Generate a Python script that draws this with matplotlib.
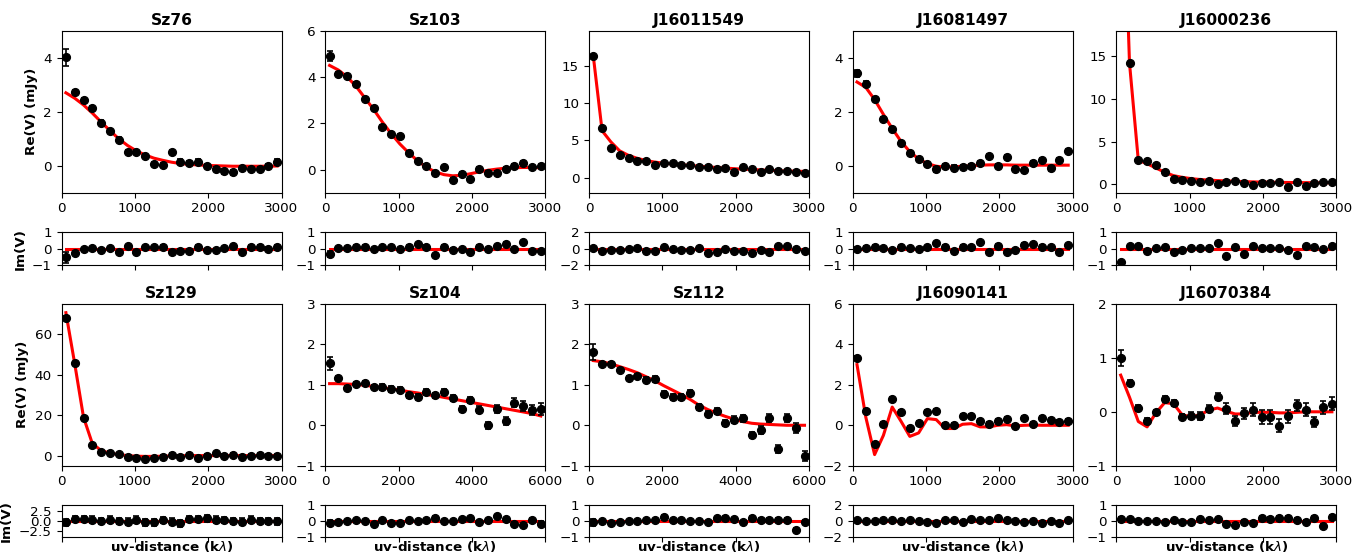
import matplotlib
matplotlib.use("Agg")
import matplotlib.pyplot as plt

# ---------------- data ----------------
uv_short = [60, 180, 300, 420, 540, 660, 780, 900, 1020, 1140, 1260, 1380, 1500,
            1620, 1740, 1860, 1980, 2100, 2220, 2340, 2460, 2580, 2700, 2820, 2940]
uv_long = [120, 360, 600, 840, 1080, 1320, 1560, 1800, 2040, 2280, 2520, 2760, 3000,
           3240, 3480, 3720, 3960, 4200, 4440, 4680, 4920, 5160, 5400, 5640, 5880]

names = ["Sz76", "Sz103", "J16011549", "J16081497", "J16000236",
         "Sz129", "Sz104", "Sz112", "J16090141", "J16070384"]

sz76_re = [4.02, 2.72, 2.42, 2.12, 1.60, 1.28, 0.97, 0.52, 0.52, 0.37, 0.06, 0.02, 0.52,
           0.15, 0.11, 0.15, 0.00, -0.11, -0.21, -0.25, -0.09, -0.11, -0.11, 0.00, 0.15]
sz76_err = [0.32] + [0.08] * 24
sz76_model = [2.70, 2.50, 2.25, 1.95, 1.62, 1.30, 1.00, 0.75, 0.55, 0.40, 0.28, 0.20, 0.13,
              0.08, 0.05, 0.03, 0.01, 0.00, -0.01, -0.02, -0.02, -0.02, -0.02, -0.02, -0.01]
sz76_im = [-0.53, -0.25, -0.04, 0.02, -0.08, 0.02, -0.22, 0.16, -0.22, 0.08, 0.08, 0.12, -0.22,
           -0.12, -0.14, 0.12, -0.10, -0.08, 0.04, 0.16, -0.22, 0.12, 0.12, 0.00, 0.12]

sz103_re = [4.91, 4.13, 4.06, 3.70, 3.04, 2.68, 1.84, 1.53, 1.44, 0.72, 0.35, 0.17, -0.16,
            0.09, -0.45, -0.19, -0.42, 0.01, -0.14, -0.13, 0.01, 0.17, 0.27, 0.09, 0.17]
sz103_err = [0.2] + [0.08] * 24
sz103_model = [4.50, 4.30, 4.00, 3.60, 3.10, 2.60, 2.05, 1.55, 1.10, 0.72, 0.38, 0.10, -0.10,
               -0.22, -0.27, -0.25, -0.18, -0.10, -0.03, 0.02, 0.06, 0.08, 0.09, 0.09, 0.08]
sz103_im = [-0.33, 0.02, 0.02, 0.12, 0.12, -0.02, 0.08, 0.08, -0.02, 0.12, 0.27, 0.12, -0.39,
            0.12, -0.06, -0.02, -0.22, 0.12, -0.04, 0.16, 0.31, -0.02, 0.39, -0.14, -0.14]

j16011549_re = [16.3, 6.62, 3.96, 3.02, 2.66, 2.30, 2.30, 1.71, 1.94, 1.94, 1.71, 1.76, 1.44,
                1.44, 1.13, 1.35, 0.72, 1.44, 1.13, 0.72, 1.22, 0.95, 0.90, 0.81, 0.59]
j16011549_err = [0.1] * 25
j16011549_model = [16.3, 6.3, 4.8, 3.6, 3.0, 2.6, 2.3, 2.1, 1.95, 1.85, 1.75, 1.65, 1.55,
                   1.45, 1.38, 1.30, 1.22, 1.15, 1.10, 1.05, 1.00, 0.95, 0.90, 0.88, 0.85]
j16011549_im = [0.04, -0.24, -0.12, -0.16, -0.04, 0.04, -0.24, -0.24, 0.16, -0.04, -0.12, -0.12, 0.12,
                -0.53, -0.41, -0.04, -0.33, -0.24, -0.53, -0.12, -0.45, 0.29, 0.37, -0.04, -0.24]

j16081497_re = [3.42, 3.04, 2.47, 1.73, 1.37, 0.83, 0.47, 0.26, 0.06, -0.14, -0.02, -0.07, -0.04,
                -0.02, 0.11, 0.35, 0.00, 0.32, -0.12, -0.17, 0.11, 0.22, -0.10, 0.22, 0.54]
j16081497_err = [0.12] + [0.08] * 24
j16081497_model = [3.10, 2.90, 2.45, 1.90, 1.38, 0.90, 0.52, 0.25, 0.08, -0.02, -0.05, -0.04, -0.02,
                   0.00, 0.02, 0.03, 0.03, 0.03, 0.02, 0.02, 0.02, 0.02, 0.02, 0.02, 0.02]
j16081497_im = [-0.02, 0.06, 0.12, 0.04, -0.08, 0.12, 0.02, -0.04, 0.08, 0.35, 0.12, -0.16, 0.12,
                0.08, 0.39, -0.20, 0.18, -0.20, -0.10, 0.24, 0.27, 0.12, 0.10, -0.22, 0.20]

j16000236_re = [45.0, 14.25, 2.83, 2.71, 2.28, 1.37, 0.55, 0.47, 0.39, 0.27, 0.35, 0.00, 0.24,
                0.39, 0.16, -0.04, 0.08, 0.08, 0.27, -0.31, 0.27, -0.16, 0.08, 0.24, 0.31]
j16000236_err = [0.06] * 25
j16000236_model = [45.0, 14.2, 2.8, 2.4, 1.9, 1.4, 1.0, 0.8, 0.65, 0.55, 0.48, 0.42, 0.38,
                   0.34, 0.30, 0.27, 0.25, 0.23, 0.21, 0.20, 0.19, 0.18, 0.17, 0.16, 0.15]
j16000236_im = [-0.82, 0.14, 0.16, -0.14, 0.04, 0.08, -0.18, -0.06, 0.06, 0.02, 0.02, 0.37, -0.47,
                0.10, -0.33, 0.14, 0.02, 0.06, 0.06, -0.10, -0.37, 0.14, 0.08, -0.04, 0.14]

sz129_re = [68.2, 45.6, 18.4, 5.1, 1.8, 1.5, 0.66, -0.5, -1.3, -1.5, -1.3, -0.5, 0.3,
            -0.5, 0.3, -1.3, 0.0, 1.15, 0.0, 0.3, -0.5, 0.0, 0.3, 0.0, 0.0]
sz129_err = [0.8] * 25
sz129_model = [70.7, 45.5, 19.0, 6.0, 2.5, 1.2, 0.5, 0.0, -0.3, -0.4, -0.4, -0.3, -0.2,
               -0.1, 0.0, 0.0, 0.0, 0.0, 0.0, 0.0, 0.0, 0.0, 0.0, 0.0, 0.0]
sz129_im = [-0.38, 0.46, 0.46, 0.30, 0.04, 0.30, 0.04, -0.20, 0.30, -0.38, -0.38, 0.20, -0.20,
            -0.63, 0.46, 0.46, 0.63, 0.30, 0.20, 0.04, -0.20, 0.30, 0.04, 0.04, -0.13]

sz104_re = [1.53, 1.18, 0.92, 1.03, 1.05, 0.94, 0.94, 0.89, 0.87, 0.74, 0.70, 0.82, 0.74,
            0.82, 0.67, 0.40, 0.62, 0.39, 0.00, 0.40, 0.10, 0.56, 0.48, 0.37, 0.41]
sz104_err = [0.17, 0.05, 0.05, 0.05, 0.05, 0.05, 0.07, 0.07, 0.07, 0.07, 0.07, 0.07, 0.07,
             0.07, 0.07, 0.08, 0.08, 0.08, 0.08, 0.09, 0.10, 0.11, 0.12, 0.12, 0.15]
sz104_model = [1.03, 1.03, 1.02, 1.01, 0.99, 0.96, 0.93, 0.90, 0.87, 0.83, 0.80, 0.76, 0.73,
               0.69, 0.65, 0.61, 0.57, 0.53, 0.49, 0.45, 0.41, 0.37, 0.33, 0.29, 0.23]
sz104_im = [-0.13, -0.10, 0.00, 0.06, 0.00, -0.23, 0.06, -0.13, -0.13, 0.06, 0.00, 0.06, 0.21,
            0.00, 0.00, 0.10, 0.17, -0.06, 0.06, 0.29, 0.10, -0.19, -0.29, 0.06, -0.19]

sz112_re = [1.82, 1.51, 1.51, 1.36, 1.16, 1.21, 1.13, 1.14, 0.77, 0.70, 0.70, 0.81, 0.45,
            0.29, 0.36, 0.06, 0.14, 0.17, -0.24, -0.12, 0.19, -0.58, 0.19, -0.07, -0.76]
sz112_err = [0.2, 0.05, 0.05, 0.05, 0.05, 0.05, 0.06, 0.07, 0.07, 0.07, 0.07, 0.07, 0.07,
             0.07, 0.07, 0.08, 0.08, 0.08, 0.08, 0.09, 0.10, 0.10, 0.10, 0.12, 0.12]
sz112_model = [1.60, 1.57, 1.52, 1.45, 1.38, 1.30, 1.20, 1.10, 0.98, 0.87, 0.76, 0.64, 0.50,
               0.39, 0.30, 0.22, 0.15, 0.09, 0.05, 0.03, 0.02, 0.01, 0.00, 0.00, 0.00]
sz112_im = [-0.10, -0.04, -0.15, -0.10, 0.02, -0.04, 0.06, 0.06, 0.27, 0.06, 0.06, 0.00, -0.04,
            -0.10, 0.15, 0.21, 0.10, -0.06, 0.21, 0.06, 0.06, 0.06, 0.06, -0.57, -0.06]

j16090141_re = [3.33, 0.69, -0.94, 0.05, 1.29, 0.66, -0.13, 0.13, 0.66, 0.69, 0.03, 0.00, 0.46,
                0.45, 0.20, 0.08, 0.20, 0.30, -0.05, 0.38, 0.08, 0.38, 0.25, 0.17, 0.20]
j16090141_err = [0.1] * 25
j16090141_model = [3.00, 0.40, -1.45, -0.50, 0.90, 0.20, -0.55, -0.38, 0.33, 0.28, -0.16, -0.16, 0.05,
                   0.08, -0.08, -0.08, 0.00, 0.03, -0.03, 0.00, 0.01, 0.00, 0.00, 0.00, 0.00]
j16090141_im = [0.08, 0.04, 0.00, 0.17, 0.13, 0.00, 0.17, 0.00, -0.13, -0.21, 0.13, 0.13, -0.13,
                0.29, 0.13, 0.13, 0.42, 0.13, 0.00, -0.13, 0.00, -0.21, 0.04, -0.21, 0.08]

j16070384_re = [1.00, 0.54, 0.07, -0.17, -0.01, 0.24, 0.16, -0.09, -0.07, -0.08, 0.06, 0.28, 0.06,
                -0.17, -0.03, 0.04, -0.09, -0.09, -0.26, -0.08, 0.12, 0.04, -0.19, 0.08, 0.15]
j16070384_err = [0.15, 0.05, 0.05, 0.05, 0.05, 0.05, 0.05, 0.05, 0.07, 0.07, 0.07, 0.07, 0.10,
                 0.10, 0.10, 0.12, 0.13, 0.13, 0.12, 0.12, 0.10, 0.12, 0.10, 0.12, 0.12]
j16070384_model = [0.68, 0.27, -0.18, -0.28, -0.02, 0.17, 0.15, -0.06, -0.09, -0.06, 0.03, 0.07, 0.01,
                   -0.04, -0.04, -0.01, -0.01, -0.01, -0.02, -0.02, -0.01, 0.00, 0.00, 0.00, 0.00]
j16070384_im = [0.10, 0.10, -0.02, -0.04, -0.04, -0.08, 0.06, -0.06, -0.10, 0.13, 0.06, 0.10, -0.17,
                -0.29, -0.06, -0.13, 0.15, 0.10, 0.19, 0.21, 0.08, -0.06, 0.21, -0.32, 0.27]

im_model_zero = [0.0] * 25

panels = [
    (uv_short, sz76_re, sz76_err, sz76_model, sz76_im, (-1, 5), [0, 2, 4], 3000, 1, [-1, 0, 1]),
    (uv_short, sz103_re, sz103_err, sz103_model, sz103_im, (-1, 6), [0, 2, 4, 6], 3000, 1, [-1, 0, 1]),
    (uv_short, j16011549_re, j16011549_err, j16011549_model, j16011549_im, (-2, 19.7), [0, 5, 10, 15], 3000, 2, [-2, 0, 2]),
    (uv_short, j16081497_re, j16081497_err, j16081497_model, j16081497_im, (-1, 5), [0, 2, 4], 3000, 1, [-1, 0, 1]),
    (uv_short, j16000236_re, j16000236_err, j16000236_model, j16000236_im, (-1, 18), [0, 5, 10, 15], 3000, 1, [-1, 0, 1]),
    (uv_short, sz129_re, sz129_err, sz129_model, sz129_im, (-5, 75), [0, 20, 40, 60], 3000, 4, [-2.5, 0.0, 2.5]),
    (uv_long, sz104_re, sz104_err, sz104_model, sz104_im, (-1, 3), [-1, 0, 1, 2, 3], 6000, 1, [-1, 0, 1]),
    (uv_long, sz112_re, sz112_err, sz112_model, sz112_im, (-1, 3), [-1, 0, 1, 2, 3], 6000, 1, [-1, 0, 1]),
    (uv_short, j16090141_re, j16090141_err, j16090141_model, j16090141_im, (-2, 6), [-2, 0, 2, 4, 6], 3000, 2, [-2, 0, 2]),
    (uv_short, j16070384_re, j16070384_err, j16070384_model, j16070384_im, (-1, 2), [-1, 0, 1, 2], 3000, 1, [-1, 0, 1]),
]

# ---------------- figure ----------------
W, H = 1355, 554
fig = plt.figure(figsize=(W / 100, H / 100), dpi=100)

TICK_FS = 9.7
col_left = [61.5, 325.2, 588.9, 852.6, 1116.3]
ax_w = 220
rows = [  # (re_top, re_bottom, im_top, im_bottom) in pixels from top
    (30.7, 192.7, 232.3, 265.0),
    (304.0, 465.7, 505.0, 536.7),
]

def px_axes(left, top, bottom):
    return [left / W, 1 - bottom / H, ax_w / W, (bottom - top) / H]

for i, (uv, re, err, model, im, ylim, yt, xmax, imlim, imt) in enumerate(panels):
    r, c = divmod(i, 5)
    rt, rb, it, ib = rows[r]
    ax = fig.add_axes(px_axes(col_left[c], rt, rb))
    axi = fig.add_axes(px_axes(col_left[c], it, ib))

    ax.plot(uv, model, color="red", lw=2.2, zorder=2)
    ax.errorbar(uv, re, yerr=err, fmt="o", color="black", ms=5.6, elinewidth=1.2,
                capsize=2, capthick=1.2, zorder=3)
    ax.set_xlim(0, xmax)
    ax.set_ylim(*ylim)
    ax.set_yticks(yt)
    xt = [0, 1000, 2000, 3000] if xmax == 3000 else [0, 2000, 4000, 6000]
    ax.set_xticks(xt)
    ax.tick_params(labelsize=TICK_FS)
    ax.set_title(names[i], fontsize=11.2, fontweight="bold", pad=4)

    axi.plot(uv, im_model_zero, color="red", lw=2.2, zorder=2)
    axi.errorbar(uv, im, yerr=err, fmt="o", color="black", ms=5.6, elinewidth=1.2,
                 capsize=2, capthick=1.2, zorder=3)
    axi.set_xlim(0, xmax)
    axi.set_ylim(-imlim, imlim)
    axi.set_yticks(imt)
    if imlim == 4:
        axi.set_yticklabels(["\u22122.5", "0.0", "2.5"])
    axi.set_xticks(xt)
    axi.set_xticklabels([])
    axi.tick_params(labelsize=TICK_FS)

    if c == 0:
        ax.set_ylabel("Re(V) (mJy)", fontsize=9.7, fontweight="bold")
        axi.set_ylabel("Im(V)", fontsize=9.7, fontweight="bold")
    if r == 1:
        axi.set_xlabel(r"uv-distance (k$\lambda$)", fontsize=9.7, fontweight="bold", labelpad=-5)

fig.savefig("out.png", dpi=100)
